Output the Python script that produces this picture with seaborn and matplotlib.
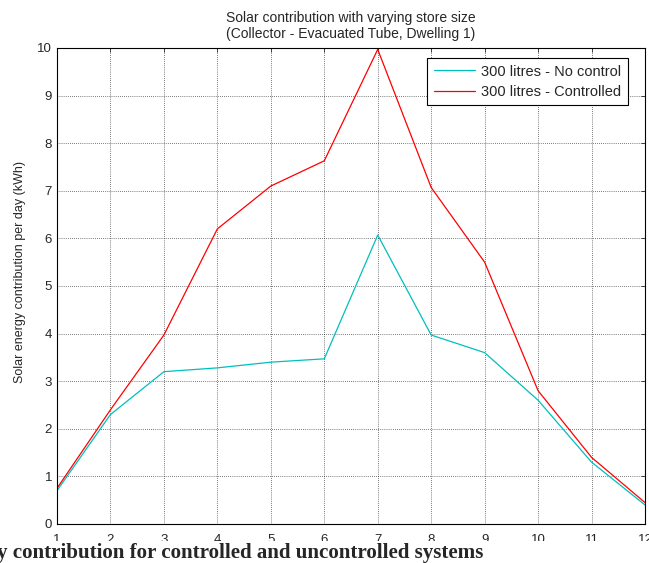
import matplotlib
matplotlib.use("Agg")
import matplotlib.pyplot as plt
from matplotlib.patches import Rectangle
import seaborn as sns
import pandas as pd

months = [1, 2, 3, 4, 5, 6, 7, 8, 9, 10, 11, 12]
no_control = [0.70, 2.30, 3.20, 3.28, 3.40, 3.47, 6.07, 3.97, 3.60, 2.60, 1.30, 0.40]
controlled = [0.75, 2.40, 3.97, 6.20, 7.10, 7.63, 9.97, 7.07, 5.50, 2.80, 1.40, 0.45]
series_names = ["300 litres - No control", "300 litres - Controlled"]
title = "Solar contribution with varying store size\n(Collector - Evacuated Tube, Dwelling 1)"
ylabel = "Solar energy contribution per day (kWh)"
caption = "y contribution for controlled and uncontrolled systems"

df = pd.DataFrame({
    "month": months * 2,
    "value": no_control + controlled,
    "series": [series_names[0]] * len(months) + [series_names[1]] * len(months),
})

sns.set_style("white")
plt.rcParams["font.family"] = ["Liberation Sans", "DejaVu Sans"]

W, H = 649, 563
fig = plt.figure(figsize=(W / 100, H / 100), dpi=100)
ax = fig.add_axes([57 / W, 1 - 524 / H, (645 - 57) / W, (524 - 48) / H])

sns.lineplot(data=df, x="month", y="value", hue="series",
             palette={series_names[0]: "#00BFBF", series_names[1]: "#FF0000"},
             linewidth=0.9, ax=ax, legend=True)

ax.set_xlim(1, 12)
ax.set_ylim(0, 10)
ax.set_xticks(range(1, 13))
ax.set_yticks(range(0, 11))
ax.grid(True, color="black", linestyle=(0, (1, 2)), linewidth=0.5)
ax.tick_params(direction="in", top=True, right=True, length=3, labelsize=9.5, width=0.6)
ax.tick_params(axis="x", pad=7)
for s in ax.spines.values():
    s.set_linewidth(0.8)
    s.set_color("black")
ax.set_xlabel("")
ax.set_ylabel(ylabel, fontsize=9)
ax.yaxis.set_label_coords(-0.052, 0.53)
ax.set_title(title, fontsize=10, linespacing=1.2, pad=7)

leg = ax.legend(loc="upper right", bbox_to_anchor=(0.971, 0.979), borderaxespad=0,
                fontsize=10.5, frameon=True, fancybox=False, edgecolor="black",
                framealpha=1, handlelength=2.85, handletextpad=0.4,
                borderpad=0.45, labelspacing=0.42)
leg.get_frame().set_linewidth(0.8)

# white band over lower part of the tick labels, as in the cropped source
fig.add_artist(Rectangle((0, 0), 1, (H - 541) / H, transform=fig.transFigure,
                         facecolor="white", edgecolor="none", zorder=1))
fig.text(-0.004, 1 - 558 / H, caption, fontsize=15.1, fontweight="bold",
         family=["Liberation Serif", "DejaVu Serif"], va="baseline", ha="left",
         zorder=3)

fig.savefig("out.png", dpi=100)
